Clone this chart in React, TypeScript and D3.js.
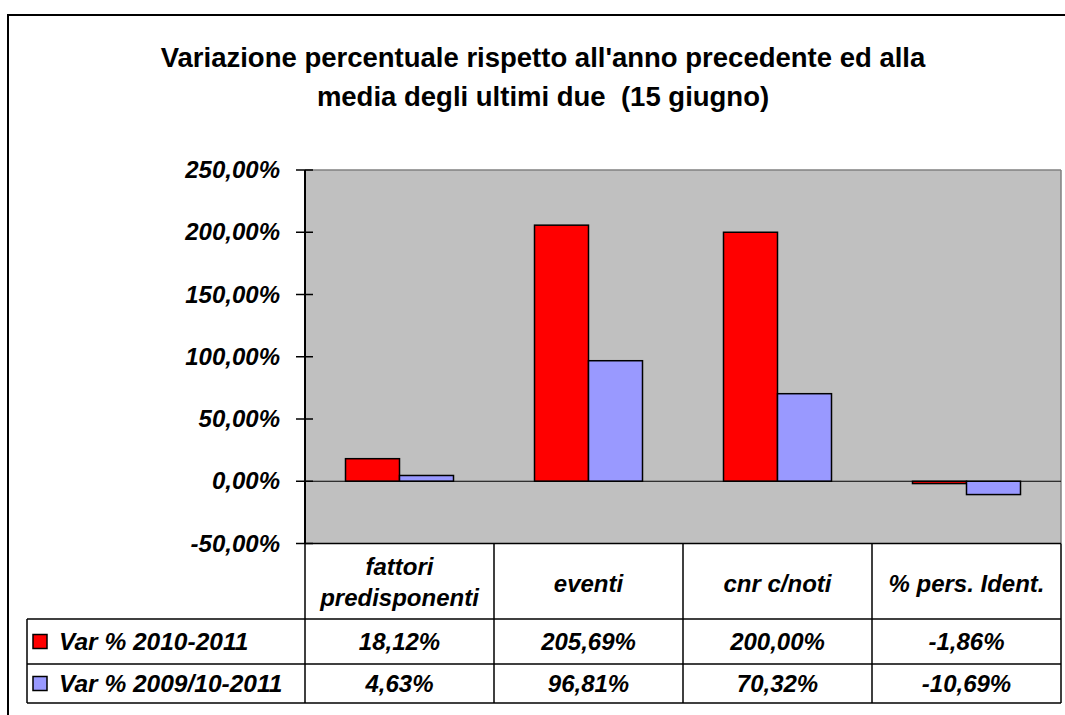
import React from 'react';
import * as d3 from 'd3';

const categories = ['fattori predisponenti', 'eventi', 'cnr c/noti', '% pers. Ident.'];
const seriesNames = ['Var % 2010-2011', 'Var % 2009/10-2011'];
const seriesColors = ['#FF0000', '#9999FF'];
const var2010_2011 = [18.12, 205.69, 200.0, -1.86];
const var2009_10_2011 = [4.63, 96.81, 70.32, -10.69];
const yTicks = [-50, 0, 50, 100, 150, 200, 250];
const titleLines = [
  "Variazione percentuale rispetto all'anno precedente ed alla",
  'media degli ultimi due  (15 giugno)',
];

const W = 1065;
const H = 715;
const font = '"Liberation Sans", Arial, sans-serif';

const fmt = (v: number) => v.toFixed(2).replace('.', ',') + '%';

const App = () => {
  const plotLeft = 305;
  const plotRight = 1061;
  const plotTop = 170;
  const plotBottom = 543.5;
  const rowTop1 = 619;
  const rowTop2 = 664;
  const tableBottom = 703;
  const legendLeft = 27;

  const x = d3.scaleBand().domain(categories).range([plotLeft, plotRight]).padding(0);
  const bw = x.bandwidth();
  const barW = bw / 3.5;
  const inner = d3.scaleBand().domain(seriesNames).range([barW * 0.75, barW * 2.75]).padding(0);
  const y = d3.scaleLinear().domain([-50, 250]).range([plotBottom, plotTop]);

  const series = [var2010_2011, var2009_10_2011];

  const cellLines = [plotLeft, ...categories.map(c => (x(c) as number) + bw)];

  return (
    <svg width={W} height={H} style={{ position: 'absolute', left: 0, top: 0, background: '#fff' }}>
      {/* chart border */}
      <rect x={8} y={15} width={W + 20} height={H + 20} fill="#fff" stroke="#000" strokeWidth={2} />

      {/* title */}
      {titleLines.map((t, i) => (
        <text key={i} x={543} y={67 + i * 39} textAnchor="middle" fontFamily={font} fontWeight="bold" fontSize={27.5}
          style={{ whiteSpace: 'pre' }}>
          {t}
        </text>
      ))}

      {/* plot area */}
      <rect x={plotLeft} y={plotTop} width={plotRight - plotLeft} height={plotBottom - plotTop} fill="#C0C0C0" />
      <line x1={plotLeft} x2={plotRight} y1={plotTop} y2={plotTop} stroke="#808080" strokeWidth={1.5} />
      <line x1={plotRight} x2={plotRight} y1={plotTop} y2={plotBottom} stroke="#808080" strokeWidth={1.5} />

      {/* bars */}
      {series.map((vals, si) =>
        vals.map((v, ci) => {
          const bx = (x(categories[ci]) as number) + (inner(seriesNames[si]) as number);
          const y0 = y(Math.max(0, v));
          const y1 = y(Math.min(0, v));
          return (
            <rect key={`${si}-${ci}`} x={bx} y={y0} width={inner.bandwidth()} height={Math.max(1, y1 - y0)}
              fill={seriesColors[si]} stroke="#000" strokeWidth={1.5} />
          );
        })
      )}

      {/* zero line */}
      <line x1={plotLeft} x2={plotRight} y1={y(0)} y2={y(0)} stroke="#000" strokeWidth={1} />

      {/* y axis */}
      <line x1={plotLeft} x2={plotLeft} y1={plotTop} y2={plotBottom} stroke="#000" strokeWidth={2} />
      {yTicks.map(t => (
        <g key={t}>
          <line x1={296} x2={313} y1={y(t)} y2={y(t)} stroke="#000" strokeWidth={1.5} />
          <text x={280} y={y(t) + 8} textAnchor="end" fontFamily={font} fontWeight="bold" fontStyle="italic" fontSize={24}>
            {fmt(t)}
          </text>
        </g>
      ))}

      {/* data table */}
      <g stroke="#000" strokeWidth={1.5}>
        <line x1={plotLeft} x2={plotRight} y1={plotBottom} y2={plotBottom} />
        {cellLines.map((cx, i) => (
          <line key={i} x1={cx} x2={cx} y1={plotBottom} y2={tableBottom} />
        ))}
        <line x1={legendLeft} x2={legendLeft} y1={rowTop1} y2={tableBottom} />
        {[rowTop1, rowTop2, tableBottom].map((ry, i) => (
          <line key={i} x1={legendLeft} x2={plotRight} y1={ry} y2={ry} />
        ))}
      </g>

      {/* category header */}
      {categories.map(c => {
        const cx = (x(c) as number) + bw / 2;
        const words = c === 'fattori predisponenti' ? ['fattori', 'predisponenti'] : [c];
        return words.map((w, i) => (
          <text key={c + i} x={cx} y={words.length === 1 ? 592 : 575 + i * 31} textAnchor="middle"
            fontFamily={font} fontWeight="bold" fontStyle="italic" fontSize={24}>
            {w}
          </text>
        ));
      })}

      {/* rows */}
      {series.map((vals, si) => {
        const top = si === 0 ? rowTop1 : rowTop2;
        const bottom = si === 0 ? rowTop2 : tableBottom;
        const mid = (top + bottom) / 2;
        return (
          <g key={si}>
            <rect x={33} y={mid - 7} width={14} height={14} fill={seriesColors[si]} stroke="#000" strokeWidth={1.5} />
            <text x={59} y={mid + 8.5} fontFamily={font} fontWeight="bold" fontStyle="italic" fontSize={24.5}>
              {seriesNames[si]}
            </text>
            {vals.map((v, ci) => (
              <text key={ci} x={(x(categories[ci]) as number) + bw / 2} y={mid + 8.5} textAnchor="middle"
                fontFamily={font} fontWeight="bold" fontStyle="italic" fontSize={24}>
                {fmt(v)}
              </text>
            ))}
          </g>
        );
      })}
    </svg>
  );
};

export default App;
